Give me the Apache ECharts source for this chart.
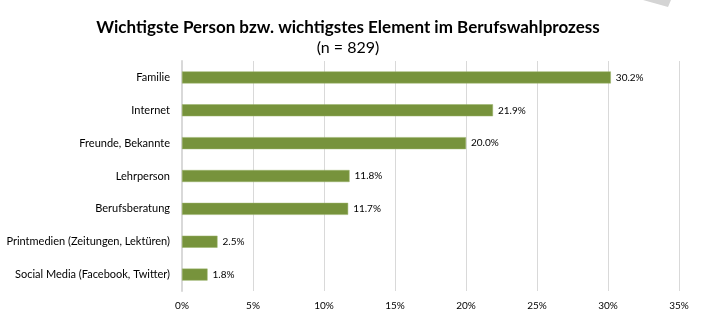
<!DOCTYPE html>
<html><head><meta charset="utf-8">
<script src="https://cdn.jsdelivr.net/npm/echarts@6/dist/echarts.min.js"></script>
<style>html,body{margin:0;padding:0;background:#fff}#c{width:706px;height:329px}</style>
</head><body><div id="c"></div>
<script>
const categories = ["Familie","Internet","Freunde, Bekannte","Lehrperson","Berufsberatung","Printmedien (Zeitungen, Lektüren)","Social Media (Facebook, Twitter)"];
const values = [30.2, 21.9, 20.0, 11.8, 11.7, 2.5, 1.8];
const titleText = "Wichtigste Person bzw. wichtigstes Element im Berufswahlprozess";
const subtitleText = "(n = 829)";
const chart = echarts.init(document.getElementById('c'));
chart.setOption({
  animation:false,
  textStyle:{fontFamily:'Lato, "Open Sans", sans-serif'},
  title:{text:titleText, subtext:subtitleText, left:343, textAlign:'center', top:14, itemGap:4,
    textStyle:{fontSize:17, fontWeight:'bold', color:'#000', fontFamily:'Lato, sans-serif'},
    subtextStyle:{fontSize:16, color:'#000', fontFamily:'Lato, sans-serif'}},
  graphic:[{type:'polygon', shape:{points:[[643,0],[671,0],[668,7]]}, style:{fill:'#d4d4d4'}, silent:true}],
  grid:{left:182, right:27, top:61, bottom:38, containLabel:false},
  xAxis:{type:'value', min:0, max:35, interval:5,
    axisLabel:{formatter:'{value}%', fontSize:10, color:'#000', margin:10},
    axisLine:{show:false}, axisTick:{show:false},
    splitLine:{lineStyle:{color:'#d9d9d9', width:1}}},
  yAxis:{type:'category', data:categories, inverse:true,
    axisLine:{lineStyle:{color:'#d9d9d9', width:2}}, axisTick:{show:false},
    axisLabel:{fontSize:11, color:'#000', margin:12}},
  series:[{type:'bar', data:values, barWidth:12,
    itemStyle:{color:'#77933C', borderColor:'#9bb36a', borderWidth:0.5},
    label:{show:true, position:'right', distance:5, fontSize:10, color:'#000',
      formatter:p=>p.value.toFixed(1)+'%'}}]
});
</script></body></html>
